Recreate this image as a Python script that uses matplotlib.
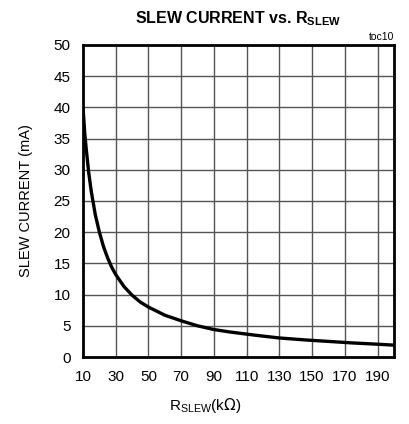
import matplotlib.pyplot as plt

plt.rcParams['font.family'] = ['Liberation Sans', 'DejaVu Sans']

# values
r_slew = [10, 11, 12, 13.5, 15, 17.5, 20, 22.5, 25, 27.5, 30, 35, 40, 45, 50, 60, 70,
          80, 90, 100, 115, 130, 145, 160, 175, 190, 200]
i_slew = [40.0, 36.0, 33.2, 29.5, 26.6, 22.8, 20.0, 17.7, 15.9, 14.4, 13.2, 11.3, 9.9,
          8.8, 8.0, 6.7, 5.8, 5.0, 4.4, 4.0, 3.5, 3.05, 2.75, 2.5, 2.25, 2.05, 1.9]

xticks = [10, 30, 50, 70, 90, 110, 130, 150, 170, 190]
yticks = [0, 5, 10, 15, 20, 25, 30, 35, 40, 45, 50]

fig = plt.figure(figsize=(4.09, 4.24), dpi=100)
ax = fig.add_axes([0.203, 0.158, 0.76, 0.736])

ax.plot(r_slew, i_slew, color='black', lw=2.4, solid_capstyle='butt')

ax.set_xlim(10, 200)
ax.set_ylim(0, 50)
ax.set_xticks(xticks)
ax.set_yticks(yticks)
ax.grid(True, color='#555555', lw=1.0)
ax.tick_params(length=0, labelsize=11, pad=9)
for s in ax.spines.values():
    s.set_linewidth(2)

ax.set_ylabel('SLEW CURRENT (mA)', fontsize=10.5, labelpad=15)
ax.set_xlabel(r'R$_{\mathregular{SLEW}}$(k$\Omega$)', fontsize=11, labelpad=9)
ax.xaxis.set_label_coords(0.392, -0.125)
fig.text(0.582, 0.946, r'SLEW CURRENT vs. R$_{\mathregular{SLEW}}$', ha='center',
         va='baseline', fontsize=11.5, fontweight='bold')
ax.text(1.0, 1.01, 'toc10', transform=ax.transAxes, ha='right', va='bottom',
        fontsize=7.5)

fig.savefig('out.png', dpi=100)
